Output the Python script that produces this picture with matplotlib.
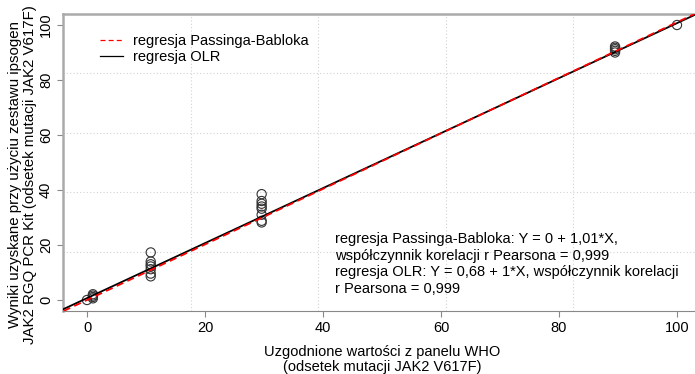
import matplotlib
matplotlib.use("Agg")
import matplotlib.pyplot as plt
import numpy as np

plt.rcParams['font.family'] = ['Liberation Sans', 'DejaVu Sans']

# data: reference values (x) and measured values (y)
x_vals = [0.0, 1.0, 1.0, 1.0, 1.0,
          10.8, 10.8, 10.8, 10.8, 10.8, 10.8, 10.8,
          29.6, 29.6, 29.6, 29.6, 29.6, 29.6, 29.6, 29.6,
          89.5, 89.5, 89.5, 89.5, 89.5,
          100.0]
y_vals = [0.0, 0.6, 1.1, 1.6, 2.1,
          17.3, 14.0, 13.0, 12.2, 11.2, 9.6, 8.6,
          38.5, 36.0, 35.0, 34.0, 33.2, 31.0, 28.8, 28.2,
          90.0, 90.6, 91.2, 91.7, 92.2,
          100.0]

pb_intercept, pb_slope = 0.0, 1.01
olr_intercept, olr_slope = 0.68, 1.0

x_ticks = [0, 20, 40, 60, 80, 100]
y_ticks = [0, 20, 40, 60, 80, 100]
lim = (-4, 104)
grid_pos = [-4 + 108 / 5 * k for k in range(1, 5)]

FS = 10.5

fig = plt.figure(figsize=(6.95, 3.74), dpi=100)
ax = fig.add_axes([63.4 / 695, 63 / 374, 637.2 / 695, 297 / 374])
ax.set_xlim(*lim)
ax.set_ylim(*lim)

for g in grid_pos:
    ax.axvline(g, color='#d3d3d3', lw=0.8, ls=(0, (1, 2)), zorder=0)
    ax.axhline(g, color='#d3d3d3', lw=0.8, ls=(0, (1, 2)), zorder=0)

ax.scatter(x_vals, y_vals, s=44, facecolors='none', edgecolors='#333333',
           linewidths=0.8, zorder=3)

ax.axline((0, olr_intercept), slope=olr_slope, color='black', lw=1.3,
          zorder=4, label='regresja OLR')
ax.axline((0, pb_intercept), slope=pb_slope, color='red', lw=1.3,
          ls=(0, (4, 2.5)), zorder=5, label='regresja Passinga-Babloka')

handles, labels = ax.get_legend_handles_labels()
leg = ax.legend(handles[::-1], labels[::-1], loc='upper left',
                bbox_to_anchor=(0.057, 0.932), frameon=False, fontsize=FS,
                handlelength=1.6, handletextpad=0.7, labelspacing=0.12,
                borderpad=0, borderaxespad=0)
for line in leg.get_lines():
    line.set_linewidth(0.9)

ax.set_xticks(x_ticks)
ax.set_yticks(y_ticks)
ax.tick_params(axis='both', colors='#888888', labelcolor='black',
               labelsize=FS, length=4, width=0.8)
for lab in ax.get_yticklabels():
    lab.set_rotation(90)
    lab.set_va('center')

for side in ['top', 'left']:
    ax.spines[side].set_color('#aaaaaa')
    ax.spines[side].set_linewidth(1.8)
ax.spines['bottom'].set_color('#888888')
ax.spines['bottom'].set_linewidth(0.8)
ax.spines['right'].set_visible(False)

ax.set_xlabel('Uzgodnione wartości z panelu WHO\n(odsetek mutacji JAK2 V617F)',
              fontsize=FS, labelpad=7, linespacing=1.05)

ylab_lines = ['Wyniki uzyskane przy użyciu zestawu ipsogen',
              'JAK2 RGQ PCR Kit (odsetek mutacji JAK2 V617F)']
yc = (374 - 175) / 374
fig.text(15 / 695, yc, ylab_lines[0], rotation=90, ha='center', va='center',
         fontsize=10.8)
fig.text(30 / 695, yc, ylab_lines[1], rotation=90, ha='center', va='center',
         fontsize=10.8)

ax.text(42, 24.8,
        'regresja Passinga-Babloka: Y = 0 + 1,01*X,\n'
        'współczynnik korelacji r Pearsona = 0,999\n'
        'regresja OLR: Y = 0,68 + 1*X, współczynnik korelacji\n'
        'r Pearsona = 0,999',
        fontsize=FS, va='top', ha='left', linespacing=1.25)

fig.savefig('out.png', dpi=100)
